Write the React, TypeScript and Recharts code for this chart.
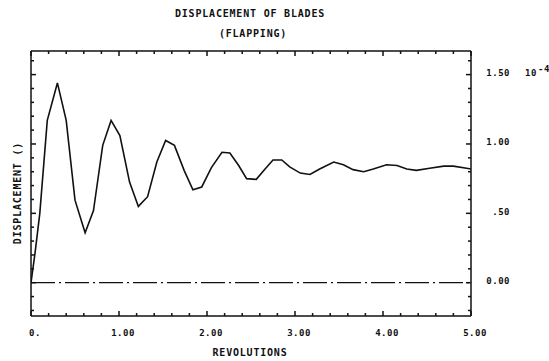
import React from "react";
import { LineChart, Line, XAxis, YAxis, ReferenceLine } from "recharts";

// Revolutions (x) and blade flapping displacement (x 10^-4)
const revs = [
  0, 0.045, 0.1, 0.185, 0.3, 0.4, 0.5, 0.615, 0.71, 0.815, 0.91, 1.01, 1.12, 1.22,
  1.325, 1.43, 1.53, 1.63, 1.74, 1.84, 1.94, 2.05, 2.17, 2.26, 2.36, 2.45, 2.56,
  2.66, 2.75, 2.85, 2.94, 3.06, 3.17, 3.28, 3.44, 3.55, 3.66, 3.78, 3.89, 4.04,
  4.16, 4.27, 4.38, 4.53, 4.69, 4.8, 4.95, 5.0,
];
const disp = [
  0, 0.21, 0.5, 1.17, 1.44, 1.17, 0.595, 0.36, 0.52, 0.99, 1.17, 1.06, 0.725, 0.55,
  0.62, 0.87, 1.025, 0.99, 0.81, 0.67, 0.69, 0.83, 0.94, 0.935, 0.845, 0.75, 0.745,
  0.82, 0.885, 0.885, 0.835, 0.79, 0.78, 0.82, 0.87, 0.85, 0.815, 0.8, 0.82, 0.85,
  0.845, 0.82, 0.81, 0.825, 0.84, 0.84, 0.825, 0.82,
];

const xMajorTicks = [0, 1, 2, 3, 4, 5];
const xMinorTicks = [0.2, 0.4, 0.6, 0.8, 1.2, 1.4, 1.6, 1.8, 2.2, 2.4, 2.6, 2.8, 3.2, 3.4, 3.6, 3.8, 4.2, 4.4, 4.6, 4.8];
const xTickLabels = ["0.", "1.00", "2.00", "3.00", "4.00", "5.00"];
const yMajorTicks = [0, 0.5, 1, 1.5];
const yMinorTicks = [-0.2, -0.1, 0.1, 0.2, 0.3, 0.4, 0.6, 0.7, 0.8, 0.9, 1.1, 1.2, 1.3, 1.4, 1.6];
const yTickLabels = ["0.00", ".50", "1.00", "1.50"];

const titleLine1 = "DISPLACEMENT OF BLADES";
const titleLine2 = "(FLAPPING)";
const xTitle = "REVOLUTIONS";
const yTitle = "DISPLACEMENT ()";

const data = revs.map((x, i) => ({ x, y: disp[i] }));

const INK = "#111";
const FONT = "'DejaVu Sans Mono', monospace";

const XDomain: [number, number] = [0, 5];
const YDomain: [number, number] = [-0.24, 1.67];

const EmptyTick = () => <g />;

const XLabelTick = (props: any) => {
  const { x, payload } = props;
  const idx = xMajorTicks.indexOf(payload.value);
  return (
    <text x={x + 4} y={335.5} textAnchor="middle" fontFamily={FONT} fontWeight="bold" fontSize={9} letterSpacing={0.5} fill={INK}>
      {idx >= 0 ? xTickLabels[idx] : ""}
    </text>
  );
};

const YLabelTick = (props: any) => {
  const { y, payload } = props;
  const idx = yMajorTicks.indexOf(payload.value);
  return (
    <g>
      <text x={510} y={y + 1.5} textAnchor="end" fontFamily={FONT} fontWeight="bold" fontSize={9} letterSpacing={0.5} fill={INK}>
        {idx >= 0 ? yTickLabels[idx] : ""}
      </text>
      {payload.value === 1.5 ? (
        <g>
          <text x={525} y={y + 1.5} fontFamily={FONT} fontWeight="bold" fontSize={9} letterSpacing={0.5} fill={INK}>10</text>
          <text x={538} y={y - 3} fontFamily={FONT} fontWeight="bold" fontSize={9} letterSpacing={0.5} fill={INK}>-4</text>
        </g>
      ) : null}
    </g>
  );
};

const border = { stroke: INK, strokeWidth: 1.5 };
const tickStyle = { stroke: INK, strokeWidth: 1.5 };

export default function App() {
  return (
    <div style={{ position: "absolute", left: 0, top: 0, width: 549, height: 361, background: "#fff" }}>
      <LineChart width={549} height={361} data={data} margin={{ top: 51, right: 0, bottom: 25, left: 31 }}>
        {/* bottom border + inward ticks */}
        <XAxis xAxisId="main" dataKey="x" type="number" domain={XDomain} allowDataOverflow orientation="bottom" mirror height={0.01}
          ticks={xMajorTicks} interval={0} tick={<EmptyTick />} tickSize={5} axisLine={border} tickLine={tickStyle} />
        <XAxis xAxisId="bMinor" dataKey="x" type="number" domain={XDomain} allowDataOverflow orientation="bottom" mirror height={0.01}
          ticks={xMinorTicks} interval={0} tick={<EmptyTick />} tickSize={3} axisLine={false} tickLine={tickStyle} />
        <XAxis xAxisId="bLabels" dataKey="x" type="number" domain={XDomain} allowDataOverflow orientation="bottom" height={20}
          ticks={xMajorTicks} interval={0} tick={<XLabelTick />} axisLine={false} tickLine={false} />
        {/* top border */}
        <XAxis xAxisId="tMajor" dataKey="x" type="number" domain={XDomain} allowDataOverflow orientation="top" height={0.01}
          ticks={xMajorTicks} interval={0} tick={<EmptyTick />} tickSize={-5} axisLine={border} tickLine={tickStyle} />
        <XAxis xAxisId="tMinor" dataKey="x" type="number" domain={XDomain} allowDataOverflow orientation="top" height={0.01}
          ticks={xMinorTicks} interval={0} tick={<EmptyTick />} tickSize={-3} axisLine={false} tickLine={tickStyle} />
        {/* left border */}
        <YAxis yAxisId="main" dataKey="y" type="number" domain={YDomain} allowDataOverflow orientation="left" mirror width={0.01}
          ticks={yMajorTicks} interval={0} tick={<EmptyTick />} tickSize={5} axisLine={border} tickLine={tickStyle} />
        <YAxis yAxisId="lMinor" dataKey="y" type="number" domain={YDomain} allowDataOverflow orientation="left" mirror width={0.01}
          ticks={yMinorTicks} interval={0} tick={<EmptyTick />} tickSize={3} axisLine={false} tickLine={tickStyle} />
        {/* right border */}
        <YAxis yAxisId="rMajor" dataKey="y" type="number" domain={YDomain} allowDataOverflow orientation="right" mirror width={0.01}
          ticks={yMajorTicks} interval={0} tick={<EmptyTick />} tickSize={5} axisLine={border} tickLine={tickStyle} />
        <YAxis yAxisId="rMinor" dataKey="y" type="number" domain={YDomain} allowDataOverflow orientation="right" mirror width={0.01}
          ticks={yMinorTicks} interval={0} tick={<EmptyTick />} tickSize={3} axisLine={false} tickLine={tickStyle} />
        <YAxis yAxisId="rLabels" dataKey="y" type="number" domain={YDomain} allowDataOverflow orientation="right" width={78}
          ticks={yMajorTicks} interval={0} tick={<YLabelTick />} axisLine={false} tickLine={false} />
        <ReferenceLine xAxisId="main" yAxisId="main" y={0} stroke={INK} strokeWidth={1.3} strokeDasharray="24 4 2 4" />
        <Line xAxisId="main" yAxisId="main" type="linear" dataKey="y" stroke={INK} strokeWidth={1.6} dot={false} isAnimationActive={false} />
      </LineChart>
      <svg width={549} height={361} style={{ position: "absolute", left: 0, top: 0, pointerEvents: "none" }}>
        <g fontFamily={FONT} fontWeight="bold" fontSize={10} fill={INK} letterSpacing={0.8}>
          <text x={250} y={17} textAnchor="middle">{titleLine1}</text>
          <text x={253} y={37} textAnchor="middle">{titleLine2}</text>
          <text x={250} y={356} textAnchor="middle">{xTitle}</text>
          <text x={21} y={193} textAnchor="middle" transform="rotate(-90 21 193)">{yTitle}</text>
        </g>
      </svg>
    </div>
  );
}
